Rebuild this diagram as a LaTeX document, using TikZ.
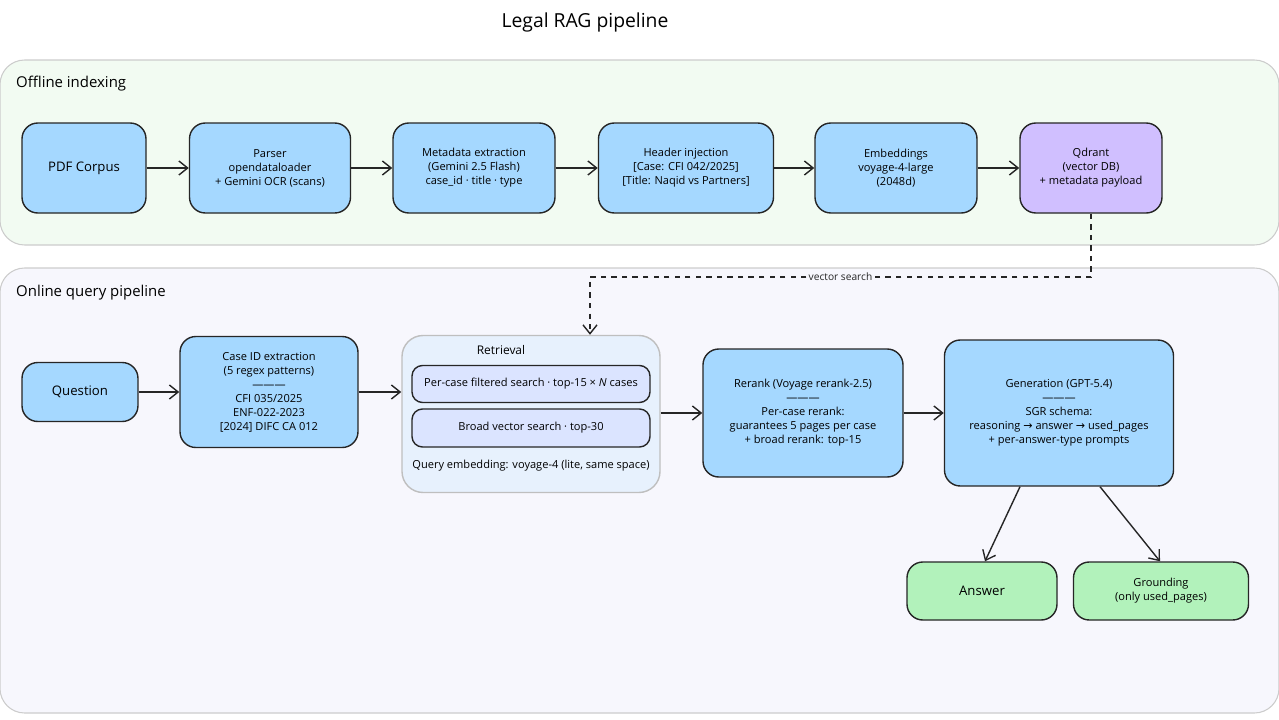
\documentclass[tikz,border=0pt]{standalone}
\usepackage{fontspec}
\setmainfont{Open Sans}
\newfontfamily\symfont{DejaVu Sans}
\newcommand{\rarr}{{\symfont →}}
\usetikzlibrary{arrows.meta,positioning}
\definecolor{boxblue}{HTML}{A5D8FF}
\definecolor{boxpurple}{HTML}{D0BFFF}
\definecolor{boxgreen}{HTML}{B2F2BB}
\definecolor{offbg}{HTML}{F2FBF2}
\definecolor{onbg}{HTML}{F7F7FD}
\definecolor{retbg}{HTML}{E7F1FD}
\definecolor{innerbg}{HTML}{DBE4FF}
\tikzset{
  stage/.style={draw=black!85, line width=0.8pt, rounded corners=9pt, fill=boxblue,
    align=center, font=\fontsize{6.3}{8}\selectfont, inner sep=2pt},
  panel/.style={draw=black!20, line width=0.6pt, rounded corners=14pt},
  flow/.style={-{Straight Barb[length=5pt,width=8pt]}, line width=0.8pt, black!85},
}
\begin{document}
\begin{tikzpicture}[x=0.02cm,y=-0.02cm]
\useasboundingbox (0,0) rectangle (1279,720);
% Title and panels
\node (Title) at (585,22) {\fontsize{11}{13}\selectfont Legal RAG pipeline};
\draw[panel, fill=offbg] (0,60) rectangle (1279,245);
\draw[panel, fill=onbg] (0,268) rectangle (1279,713);
\node[anchor=west] (OfflineLbl) at (10,84) {\fontsize{8.5}{10}\selectfont Offline indexing};
\node[anchor=west] (OnlineLbl) at (10,293) {\fontsize{8.5}{10}\selectfont Online query pipeline};

% Offline row
\node[stage, minimum width=124*0.02cm, minimum height=90*0.02cm] (Corpus) at (84,168) {\fontsize{7.5}{9}\selectfont PDF Corpus};
\node[stage, minimum width=161*0.02cm, minimum height=90*0.02cm] (Parser) at (270,168) {Parser\\opendataloader\\+ Gemini OCR (scans)};
\node[stage, minimum width=162*0.02cm, minimum height=90*0.02cm] (Meta) at (474,168) {Metadata extraction\\(Gemini 2.5 Flash)\\case\_id · title · type};
\node[stage, minimum width=175*0.02cm, minimum height=90*0.02cm] (Header) at (686,168) {Header injection\\{[Case: CFI 042/2025]}\\{[Title: Naqid vs Partners]}};
\node[stage, minimum width=162*0.02cm, minimum height=90*0.02cm] (Embed) at (896,168) {Embeddings\\voyage-4-large\\(2048d)};
\node[stage, fill=boxpurple, minimum width=142*0.02cm, minimum height=90*0.02cm] (Qdrant) at (1091,168) {Qdrant\\(vector DB)\\+ metadata payload};
\draw[flow] (Corpus) -- (Parser);
\draw[flow] (Parser) -- (Meta);
\draw[flow] (Meta) -- (Header);
\draw[flow] (Header) -- (Embed);
\draw[flow] (Embed) -- (Qdrant);

% Online row
\node[stage, minimum width=116*0.02cm, minimum height=59*0.02cm] (Question) at (80,392) {\fontsize{7.5}{9}\selectfont Question};
\node[stage, minimum width=178*0.02cm, minimum height=111*0.02cm] (CaseId) at (269,392) {Case ID extraction\\(5 regex patterns)\\———\\CFI 035/2025\\ENF-022-2023\\{[2024]} DIFC CA 012};
\node[stage, fill=retbg, draw=black!25, rounded corners=12pt, minimum width=258*0.02cm, minimum height=157*0.02cm] (Retrieval) at (531,414) {};
\node[font=\fontsize{6.8}{8}\selectfont] (RetLbl) at (501,350) {Retrieval};
\node[stage, fill=innerbg, rounded corners=6pt, minimum width=238*0.02cm, minimum height=37*0.02cm] (PerCase) at (531,384) {Per-case filtered search · top-15 × \textit{N} cases};
\node[stage, fill=innerbg, rounded corners=6pt, minimum width=238*0.02cm, minimum height=38*0.02cm] (Broad) at (531,428) {Broad vector search · top-30};
\node[font=\fontsize{6.3}{8}\selectfont] (QueryEmb) at (531,466) {Query embedding: voyage-4 (lite, same space)};
\node[stage, minimum width=200*0.02cm, minimum height=128*0.02cm] (Rerank) at (803,413) {Rerank (Voyage rerank-2.5)\\———\\Per-case rerank:\\guarantees 5 pages per case\\+ broad rerank: top-15};
\node[stage, minimum width=229*0.02cm, minimum height=146*0.02cm] (Gen) at (1059,413) {Generation (GPT-5.4)\\———\\SGR schema:\\reasoning \rarr{} answer \rarr{} used\_pages\\+ per-answer-type prompts};
\node[stage, fill=boxgreen, minimum width=150*0.02cm, minimum height=58*0.02cm] (Answer) at (982,591) {\fontsize{7.5}{9}\selectfont Answer};
\node[stage, fill=boxgreen, minimum width=175*0.02cm, minimum height=58*0.02cm] (Ground) at (1161,591) {Grounding\\(only used\_pages)};

\draw[flow] (Question) -- (CaseId);
\draw[flow] (CaseId.east) -- (CaseId.east -| Retrieval.west);
\draw[flow] (Rerank.west -| Retrieval.east) -- (Rerank.west);
\draw[flow] (Rerank) -- (Gen);
\draw[flow] (Gen.south -| 1020,0) -- (Answer.north -| 985,0);
\draw[flow] (Gen.south -| 1100,0) -- (Ground.north -| 1160,0);

% Vector search link
\coordinate (Bend) at (590,277);
\draw[flow, dashed] (Qdrant.south) |- (Bend)
  node[pos=0.75, fill=onbg, inner sep=1pt, font=\fontsize{5.8}{7}\selectfont] (VecLbl) {vector search}
  -- (Retrieval.north -| Bend);
\end{tikzpicture}
\end{document}
